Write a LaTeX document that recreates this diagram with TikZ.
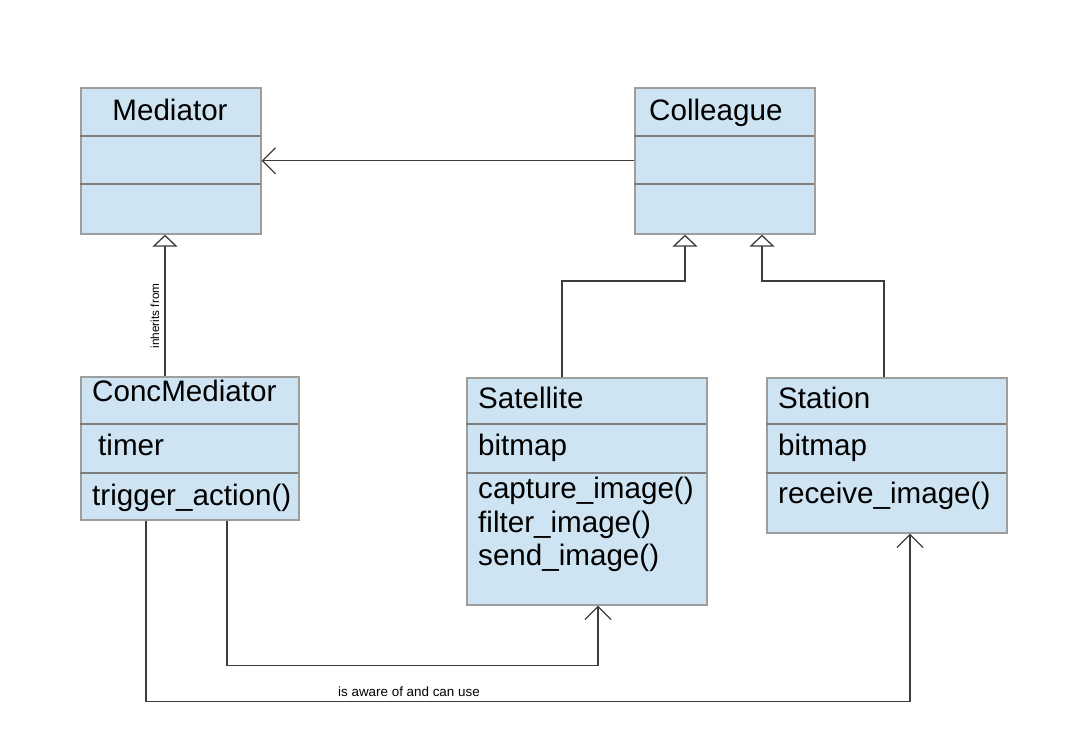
\documentclass[tikz,border=0pt]{standalone}
\usepackage{fontspec}
\setmainfont{Liberation Sans}
\usetikzlibrary{arrows.meta}
\definecolor{boxfill}{RGB}{207,228,243}
\definecolor{boxline}{RGB}{158,158,158}
\definecolor{conline}{RGB}{60,60,60}
\tikzset{
  umlbox/.style={draw=boxline, fill=boxfill, line width=1.6pt, rectangle, inner sep=0pt, anchor=north west},
  divider/.style={draw=boxline!80!black, line width=1.3pt},
  big/.style={font=\fontsize{29.6}{33}\selectfont, inner sep=0pt, anchor=base west},
  small/.style={font=\fontsize{13.4}{15}\selectfont, inner sep=0pt},
  tiny/.style={font=\fontsize{11.8}{13}\selectfont, inner sep=0pt},
  assoc/.style={draw=conline, line width=1.3pt, -{Straight Barb[length=13pt,width=26pt,line width=1.3pt]}},
  inh/.style={draw=conline, line width=1.3pt, -{Triangle[open,length=12pt,width=25pt,line width=1.3pt]}},
}
\begin{document}
\begin{tikzpicture}[x=1pt,y=-1pt]
\useasboundingbox (0,0) rectangle (1067,751);

% boxes
\node[umlbox, minimum width=180pt, minimum height=146pt] (med) at (80,87) {};
\node[umlbox, minimum width=180pt, minimum height=146pt] (col) at (634,87) {};
\node[umlbox, minimum width=218pt, minimum height=143pt] (conc) at (80,376) {};
\node[umlbox, minimum width=240pt, minimum height=227pt] (sat) at (466,377) {};
\node[umlbox, minimum width=240pt, minimum height=155pt] (sta) at (766,377) {};

% compartments
\draw[divider] (80,136) -- (260,136);
\draw[divider] (80,184) -- (260,184);
\draw[divider] (634,136) -- (814,136);
\draw[divider] (634,184) -- (814,184);
\draw[divider] (80,424) -- (298,424);
\draw[divider] (80,473) -- (298,473);
\draw[divider] (466,424) -- (706,424);
\draw[divider] (466,473) -- (706,473);
\draw[divider] (766,424) -- (1006,424);
\draw[divider] (766,473) -- (1006,473);

% texts
\node[big, anchor=base] (tmed) at (170,121) {Mediator};
\node[big] (tcol) at (649,121) {Colleague};
\node[big] (tconc) at (92,401) {ConcMediator};
\node[big] (tconca) at (98,455) {timer};
\node[big] (tconco) at (92,505) {trigger\_action()};
\node[big] (tsat) at (478,408) {Satellite};
\node[big] (tsata) at (478,455) {bitmap};
\node[big] (tsato1) at (478,498) {capture\_image()};
\node[big] (tsato2) at (478,532) {filter\_image()};
\node[big] (tsato3) at (478,565) {send\_image()};
\node[big] (tsta) at (778,408) {Station};
\node[big] (tstaa) at (778,455) {bitmap};
\node[big] (tstao) at (778,503) {receive\_image()};

% connectors
\draw[assoc] (col.west) -- (med.east);
\draw[inh] ([xshift=85pt]conc.north west) -- ([xshift=85pt]med.south west);
\draw[inh] ([xshift=96pt]sat.north west) -- ++(0,-96) -| ([xshift=51pt]col.south west);
\draw[inh] ([xshift=118pt]sta.north west) -- ++(0,-96) -| ([xshift=128pt]col.south west);
\draw[assoc] ([xshift=147pt]conc.south west) -- ++(0,145) -| ([xshift=132pt]sat.south west);
\draw[assoc] ([xshift=66pt]conc.south west) -- ++(0,181) -| ([xshift=144pt]sta.south west);

% labels
\node[tiny, rotate=90] (linh) at (155,316) {inherits from};
\node[small, anchor=base west] (lass) at (338,696) {is aware of and can use};
\end{tikzpicture}
\end{document}
